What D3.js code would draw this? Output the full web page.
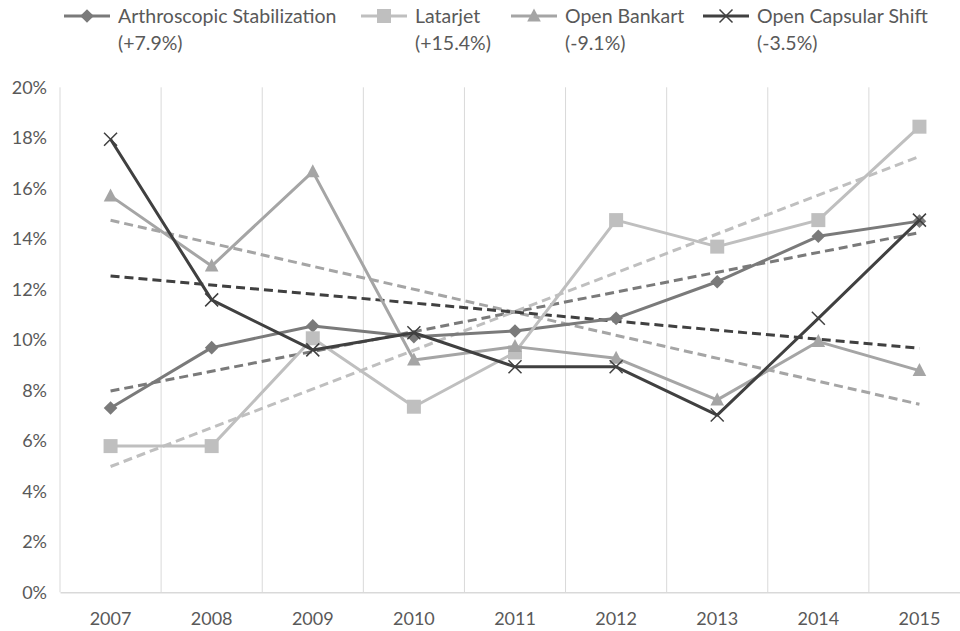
<!DOCTYPE html>
<html>
<head>
<meta charset="utf-8">
<script src="https://cdn.jsdelivr.net/npm/d3@7"></script>
<style>
  body { margin: 0; background: #fff; }
  text { font-family: Lato, "Open Sans", sans-serif; fill: #595959; }
</style>
</head>
<body>
<svg id="root"></svg>
<script>
const years = ['2007', '2008', '2009', '2010', '2011', '2012', '2013', '2014', '2015'];
const seriesNames = ['Arthroscopic Stabilization', 'Latarjet', 'Open Bankart', 'Open Capsular Shift'];
const changeLabels = ['(+7.9%)', '(+15.4%)', '(-9.1%)', '(-3.5%)'];
const arthroscopic = [7.3, 9.69, 10.55, 10.12, 10.35, 10.85, 12.3, 14.1, 14.7];
const latarjet = [5.79, 5.79, 10.06, 7.35, 9.5, 14.74, 13.69, 14.74, 18.44];
const openBankart = [15.7, 12.92, 16.66, 9.2, 9.73, 9.27, 7.62, 9.93, 8.78];
const openCapsular = [17.94, 11.58, 9.6, 10.28, 8.93, 8.93, 7.02, 10.85, 14.74];
const yTicks = [0, 2, 4, 6, 8, 10, 12, 14, 16, 18, 20];

const colors = ['#7a7a7a', '#bfbfbf', '#a5a5a5', '#404040'];
const markers = ['diamond', 'square', 'triangle', 'x'];
const allValues = [arthroscopic, latarjet, openBankart, openCapsular];

const width = 960, height = 631;
const svg = d3.select('#root').attr('width', width).attr('height', height);

const xScale = d3.scaleBand().domain(years).range([60, 970]);
const yScale = d3.scaleLinear().domain([0, 20]).range([592.3, 87.3]);
const cx = d => xScale(d) + xScale.bandwidth() / 2;

// vertical gridlines at category boundaries
const bounds = years.map(y => xScale(y)).concat([970]);
svg.append('g').selectAll('line').data(bounds).enter().append('line')
  .attr('x1', d => d).attr('x2', d => d)
  .attr('y1', yScale(20)).attr('y2', yScale(0))
  .attr('stroke', '#d9d9d9').attr('stroke-width', 1);

// x axis
const axisX = svg.append('g')
  .attr('transform', `translate(0, ${yScale(0)})`)
  .call(d3.axisBottom(xScale).tickSize(0).tickPadding(20));
axisX.select('.domain').attr('stroke', '#d9d9d9').attr('stroke-width', 1.5);
axisX.selectAll('text').style('font-size', '18px').attr('fill', '#595959');

// y axis (labels only)
const axisY = svg.append('g')
  .attr('transform', 'translate(60, 0)')
  .call(d3.axisLeft(yScale).tickValues(yTicks).tickSize(0).tickPadding(13).tickFormat(d => d + '%'));
axisY.select('.domain').remove();
axisY.selectAll('text').style('font-size', '18px').attr('fill', '#595959');

function markerPath(type) {
  if (type === 'diamond') return 'M0,-6.8L6.8,0L0,6.8L-6.8,0Z';
  if (type === 'square') return 'M-7,-7H7V7H-7Z';
  if (type === 'triangle') return 'M0,-7.5L6.8,5.5H-6.8Z';
  return 'M-6.5,-6.5L6.5,6.5M-6.5,6.5L6.5,-6.5';
}

function drawMarker(g, type, color) {
  const p = g.append('path').attr('d', markerPath(type));
  if (type === 'x') p.attr('fill', 'none').attr('stroke', color).attr('stroke-width', 1.5);
  else p.attr('fill', color);
}

// least squares trend per series
function trend(vals) {
  const n = vals.length;
  const xm = (n - 1) / 2;
  const ym = d3.mean(vals);
  let sxy = 0, sxx = 0;
  vals.forEach((v, i) => { sxy += (i - xm) * (v - ym); sxx += (i - xm) * (i - xm); });
  const b = sxy / sxx;
  return [ym - b * xm, ym + b * (n - 1 - xm)];
}

const trendG = svg.append('g');
allValues.forEach((vals, k) => {
  const t = trend(vals);
  trendG.append('line')
    .attr('x1', cx(years[0])).attr('y1', yScale(t[0]))
    .attr('x2', cx(years[years.length - 1])).attr('y2', yScale(t[1]))
    .attr('stroke', colors[k]).attr('stroke-width', 3)
    .attr('stroke-dasharray', '9,5');
});

const line = d3.line().x(d => cx(d.year)).y(d => yScale(d.v));

allValues.forEach((vals, k) => {
  const pts = vals.map((v, i) => ({ year: years[i], v: v }));
  const g = svg.append('g');
  g.append('path').datum(pts)
    .attr('d', line)
    .attr('fill', 'none')
    .attr('stroke', colors[k])
    .attr('stroke-width', 3)
    .attr('stroke-linejoin', 'round');
  g.selectAll('g.m').data(pts).enter().append('g')
    .attr('class', 'm')
    .attr('transform', d => `translate(${cx(d.year)}, ${yScale(d.v)})`)
    .each(function () { drawMarker(d3.select(this), markers[k], colors[k]); });
});

// legend
const legendX = [64, 361, 511, 703];
seriesNames.forEach((name, k) => {
  const g = svg.append('g').attr('transform', `translate(${legendX[k]}, 16)`);
  g.append('line').attr('x1', 0).attr('x2', 46).attr('y1', 0).attr('y2', 0)
    .attr('stroke', colors[k]).attr('stroke-width', 3);
  drawMarker(g.append('g').attr('transform', 'translate(23, 0)'), markers[k], colors[k]);
  const t = g.append('text').attr('x', 54).attr('y', 7).style('font-size', '19.5px');
  t.append('tspan').attr('x', 54).text(name);
  t.append('tspan').attr('x', 54).attr('dy', 27).text(changeLabels[k]);
});
</script>
</body>
</html>
